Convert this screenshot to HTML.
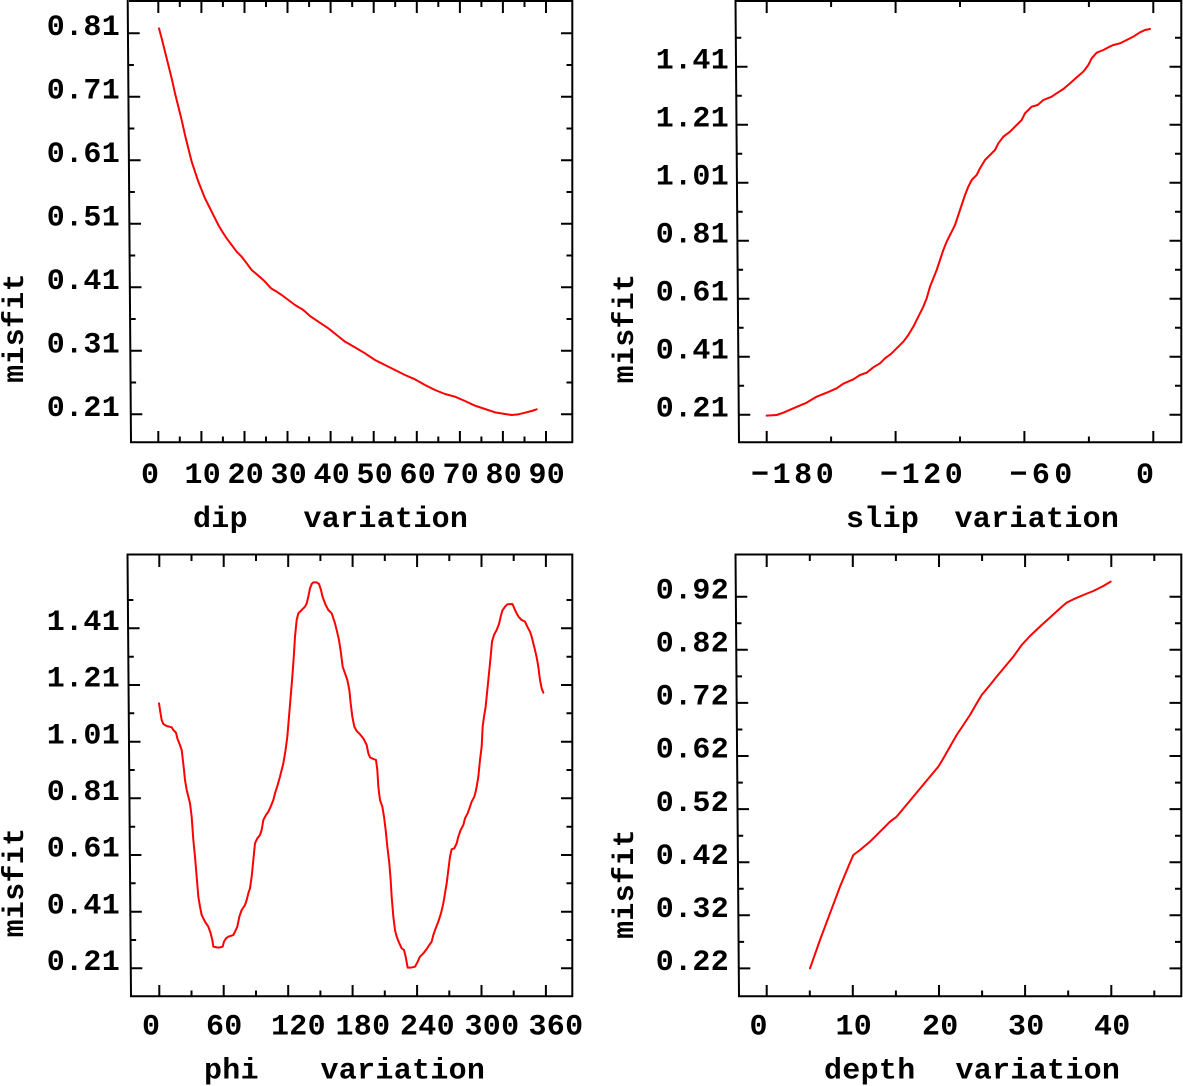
<!DOCTYPE html>
<html>
<head>
<meta charset="utf-8">
<style>
html,body{margin:0;padding:0;background:#fff;}
svg{display:block;}
text{font-family:"Liberation Mono","DejaVu Sans Mono",monospace;font-weight:bold;font-size:30px;letter-spacing:0.3px;fill:#000;}
</style>
</head>
<body>
<svg width="1183" height="1086" viewBox="0 0 1183 1086" xmlns="http://www.w3.org/2000/svg">
<rect x="0" y="0" width="1183" height="1086" fill="#fff"/>

<g stroke="#000" stroke-width="2" fill="none">
  <path d="M127.7,0 L131,443 M129,1 H573 M572.3,0 V443 M130,442.3 H573"/>
  <path d="M735.5,0 L739,443 M736,1 H1182 M1181.3,0 V443 M738,442.3 H1182"/>
  <path d="M127.5,553.5 L131,997 M128,554.5 H573 M572.3,553.5 V997 M130,996.2 H573"/>
  <path d="M735.5,553.5 L739,997 M736,554.5 H1182 M1181.3,553.5 V997 M738,996.2 H1182"/>
</g>

<g stroke="#000" stroke-width="2" fill="none">
  <path d="M127.7 33.3H139.7M128.2 96.8H140.2M128.6 160.3H140.6M129 223.8H141M129.5 287.3H141.5M129.9 350.8H141.9M130.3 414.3H142.3
           M127.9 65H133.9M128.4 128.5H134.4M128.8 192H134.8M129.2 255.5H135.2M129.7 319H135.7M130.1 382.5H136.1"/>
  <path d="M561 33.3H572M561 96.8H572M561 160.3H572M561 223.8H572M561 287.3H572M561 350.8H572M561 414.3H572
           M566.5 65H572M566.5 128.5H572M566.5 192H572M566.5 255.5H572M566.5 319H572M566.5 382.5H572"/>
  <path d="M158.3 431V442M201.4 431V442M244.5 431V442M287.5 431V442M330.6 431V442M373.7 431V442M416.8 431V442M459.9 431V442M502.9 431V442M546 431V442
           M179.8 436.5V442M222.9 436.5V442M266 436.5V442M309.1 436.5V442M352.2 436.5V442M395.2 436.5V442M438.3 436.5V442M481.4 436.5V442M524.5 436.5V442"/>
  <path d="M158.3 0V13M201.4 0V13M244.5 0V13M287.5 0V13M330.6 0V13M373.7 0V13M416.8 0V13M459.9 0V13M502.9 0V13M546 0V13
           M179.8 0V7M222.9 0V7M266 0V7M309.1 0V7M352.2 0V7M395.2 0V7M438.3 0V7M481.4 0V7M524.5 0V7"/>

  <path d="M735.5 66.7H747.5M736 124.7H748M736.4 182.7H748.4M736.9 240.7H748.9M737.4 298.7H749.4M737.8 356.7H749.8M738.3 414.7H750.3
           M735.3 37.7H741.3M735.8 95.7H741.8M736.2 153.7H742.2M736.7 211.7H742.7M737.1 269.7H743.1M737.6 327.7H743.6M738.1 385.7H744.1"/>
  <path d="M1169.5 66.7H1181M1169.5 124.7H1181M1169.5 182.7H1181M1169.5 240.7H1181M1169.5 298.7H1181M1169.5 356.7H1181M1169.5 414.7H1181
           M1175 37.7H1181M1175 95.7H1181M1175 153.7H1181M1175 211.7H1181M1175 269.7H1181M1175 327.7H1181M1175 385.7H1181"/>
  <path d="M766.7 431V442M895.6 431V442M1024.4 431V442M1153.3 431V442
           M831.1 436.5V442M960 436.5V442M1088.9 436.5V442"/>
  <path d="M766.7 0V13M895.6 0V13M1024.4 0V13M1153.3 0V13
           M831.1 0V7M960 0V7M1088.9 0V7"/>

  <path d="M127.6 628.3H139.6M128 685H140M128.5 741.7H140.5M128.9 798.3H140.9M129.4 855H141.4M129.8 911.7H141.8M130.3 968.3H142.3
           M127.4 600H133.4M127.8 656.7H133.8M128.3 713.3H134.3M128.7 770H134.7M129.2 826.7H135.2M129.6 883.3H135.6M130.1 940H136.1"/>
  <path d="M561 628.3H572M561 685H572M561 741.7H572M561 798.3H572M561 855H572M561 911.7H572M561 968.3H572
           M566.5 600H572M566.5 656.7H572M566.5 713.3H572M566.5 770H572M566.5 826.7H572M566.5 883.3H572M566.5 940H572"/>
  <path d="M159.3 985V996M223.7 985V996M288.2 985V996M352.6 985V996M417.1 985V996M481.5 985V996M545.9 985V996
           M191.5 990.5V996M256 990.5V996M320.4 990.5V996M384.8 990.5V996M449.3 990.5V996M513.7 990.5V996"/>
  <path d="M159.3 554V567M223.7 554V567M288.2 554V567M352.6 554V567M417.1 554V567M481.5 554V567M545.9 554V567
           M191.5 554V561M256 554V561M320.4 554V561M384.8 554V561M449.3 554V561M513.7 554V561"/>

  <path d="M735.3 596.7H747.3M735.8 649.8H747.8M736.2 702.9H748.2M736.6 756H748.6M737 809.1H749M737.4 862.2H749.4M737.9 915.3H749.9M738.3 968.4H750.3
           M735.5 623.3H741.5M736 676.4H742M736.4 729.5H742.4M736.8 782.6H742.8M737.2 835.7H743.2M737.7 888.8H743.7M738.1 941.9H744.1"/>
  <path d="M1169.5 596.7H1181M1169.5 649.8H1181M1169.5 702.9H1181M1169.5 756H1181M1169.5 809.1H1181M1169.5 862.2H1181M1169.5 915.3H1181M1169.5 968.4H1181
           M1175 623.3H1181M1175 676.4H1181M1175 729.5H1181M1175 782.6H1181M1175 835.7H1181M1175 888.8H1181M1175 941.9H1181"/>
  <path d="M766.7 985V996M852.8 985V996M939 985V996M1025.1 985V996M1111.3 985V996
           M809.8 990.5V996M895.9 990.5V996M982.1 990.5V996M1068.2 990.5V996M1154.3 990.5V996"/>
  <path d="M766.7 554V567M852.8 554V567M939 554V567M1025.1 554V567M1111.3 554V567
           M809.8 554V561M895.9 554V561M982.1 554V561M1068.2 554V561M1154.3 554V561"/>
</g>

<g fill="none" stroke="#ff0000" stroke-width="2" stroke-linejoin="round" stroke-linecap="round">
  <polyline transform="translate(145,15) scale(0.33333)" vector-effect="non-scaling-stroke"
    points="42,40 50,70 60,110 70,150 80,190 90,235 100,275 110,315 120,360 130,400 140,440 150,470 160,500 170,525 180,550 190,570 200,590 210,610 220,630 232,650 245,670 260,690 275,710 290,725 305,745 320,765 340,782 360,800 378,820 395,830 410,840 430,855 450,870 475,885 495,903 520,920 550,940 575,960 600,980 630,997 660,1015 690,1035 720,1050 750,1065 780,1080 810,1093 840,1110 870,1125 900,1137 930,1145 960,1158 990,1172 1020,1182 1050,1192 1080,1197 1100,1200 1120,1198 1140,1193 1160,1188 1175,1183"/>
  <polyline transform="translate(740,15) scale(0.33333)" vector-effect="non-scaling-stroke"
    points="80,1202 110,1200 130,1193 160,1180 200,1163 230,1145 260,1133 290,1120 310,1106 340,1093 360,1080 380,1073 400,1057 420,1045 435,1030 455,1015 470,1000 490,980 505,960 520,935 535,905 550,875 560,850 570,815 580,790 590,765 600,735 610,705 620,680 635,650 645,630 655,600 665,570 675,540 685,515 695,495 710,480 720,460 735,435 750,420 765,405 775,385 790,365 810,350 830,330 845,315 855,295 875,275 893,270 910,255 935,245 950,235 970,222 990,205 1010,187 1030,170 1045,150 1055,130 1070,113 1090,105 1105,97 1120,90 1140,85 1160,75 1180,65 1200,52 1215,45 1230,42"/>
  <polyline transform="translate(140,570) scale(0.33333)" vector-effect="non-scaling-stroke"
    points="57,400 60,420 65,450 70,462 80,468 95,472 100,480 108,488 112,505 118,520 125,540 128,565 132,600 135,630 140,660 145,680 150,700 155,740 160,810 165,860 170,920 175,980 180,1010 185,1035 195,1055 205,1070 212,1090 217,1110 220,1130 235,1133 248,1130 252,1115 258,1105 265,1100 280,1095 285,1085 292,1070 298,1040 305,1020 315,1005 320,990 325,970 330,955 335,920 340,870 345,820 352,805 360,795 365,780 370,750 378,735 385,725 392,710 400,690 405,670 413,645 420,620 430,580 436,545 442,500 447,440 452,380 457,320 462,250 465,200 470,150 475,130 485,120 495,110 500,100 505,80 510,55 515,42 520,37 530,37 537,42 543,60 547,78 552,92 557,105 565,120 575,130 580,145 585,160 590,180 597,210 603,250 608,290 615,310 622,330 628,360 632,400 637,440 643,470 650,483 660,493 670,505 680,525 685,550 690,562 700,567 708,570 712,600 715,650 720,690 727,710 732,740 737,780 742,830 748,880 752,930 755,980 760,1040 765,1080 770,1100 778,1120 785,1135 792,1140 797,1160 803,1193 812,1193 825,1190 833,1175 840,1160 850,1150 860,1137 868,1125 875,1115 880,1095 887,1075 895,1055 903,1030 910,1000 915,970 920,940 925,900 930,860 935,838 943,835 950,820 955,800 962,780 970,765 975,745 983,730 990,710 995,695 1003,680 1007,665 1010,650 1015,620 1020,570 1025,530 1028,470 1032,440 1037,410 1042,360 1047,310 1052,260 1056,215 1062,195 1070,180 1077,162 1082,140 1087,122 1095,110 1102,103 1117,102 1120,108 1125,120 1130,130 1137,142 1145,150 1155,155 1162,170 1170,185 1175,200 1180,220 1185,240 1190,262 1195,290 1200,330 1205,355 1210,368"/>
  <polyline transform="translate(790,570) scale(0.33333)" vector-effect="non-scaling-stroke"
    points="60,1195 90,1110 120,1030 150,950 175,890 190,855 210,840 240,815 270,785 300,755 320,740 345,710 370,680 395,650 420,620 445,590 460,565 480,530 500,495 520,465 540,435 560,400 575,375 600,345 620,320 645,290 670,260 695,225 720,198 755,165 785,138 810,115 830,98 850,88 880,75 910,63 940,48 962,35"/>
</g>

<g text-anchor="end">
  <text x="120" y="35">0.81</text>
  <text x="120" y="98.5">0.71</text>
  <text x="120" y="162">0.61</text>
  <text x="120" y="225.5">0.51</text>
  <text x="120" y="289">0.41</text>
  <text x="120" y="352.5">0.31</text>
  <text x="120" y="416">0.21</text>
  <text x="729" y="68.4">1.41</text>
  <text x="729" y="126.4">1.21</text>
  <text x="729" y="184.4">1.01</text>
  <text x="729" y="242.4">0.81</text>
  <text x="729" y="300.4">0.61</text>
  <text x="729" y="358.4">0.41</text>
  <text x="729" y="416.4">0.21</text>
  <text x="120" y="630">1.41</text>
  <text x="120" y="686.7">1.21</text>
  <text x="120" y="743.4">1.01</text>
  <text x="120" y="800">0.81</text>
  <text x="120" y="856.7">0.61</text>
  <text x="120" y="913.4">0.41</text>
  <text x="120" y="970">0.21</text>
  <text x="729" y="598.4">0.92</text>
  <text x="729" y="651.5">0.82</text>
  <text x="729" y="704.6">0.72</text>
  <text x="729" y="757.7">0.62</text>
  <text x="729" y="810.8">0.52</text>
  <text x="729" y="863.9">0.42</text>
  <text x="729" y="917">0.32</text>
  <text x="729" y="970.1">0.22</text>
</g>

<g>
  <text x="141" y="483">0</text>
  <text x="184.5" y="483">10</text>
  <text x="227.5" y="483">20</text>
  <text x="270.5" y="483">30</text>
  <text x="313.5" y="483">40</text>
  <text x="356.5" y="483">50</text>
  <text x="399.5" y="483">60</text>
  <text x="442.5" y="483">70</text>
  <text x="485.5" y="483">80</text>
  <text x="528.5" y="483">90</text>
  <text x="751" y="483" textLength="83" lengthAdjust="spacing">−180</text>
  <text x="880" y="483" textLength="83" lengthAdjust="spacing">−120</text>
  <text x="1009.5" y="483" textLength="63" lengthAdjust="spacing">−60</text>
  <text x="1136" y="483">0</text>
  <text x="142" y="1034.5">0</text>
  <text x="206" y="1034.5">60</text>
  <text x="271" y="1034.5">120</text>
  <text x="335.5" y="1034.5">180</text>
  <text x="400" y="1034.5">240</text>
  <text x="464.5" y="1034.5">300</text>
  <text x="528.5" y="1034.5">360</text>
  <text x="749.5" y="1034.5">0</text>
  <text x="835.5" y="1034.5">10</text>
  <text x="922" y="1034.5">20</text>
  <text x="1008" y="1034.5">30</text>
  <text x="1094" y="1034.5">40</text>
</g>

<g>
  <text y="527"><tspan x="193">dip</tspan><tspan x="303.5">variation</tspan></text>
  <text y="527"><tspan x="846">slip</tspan><tspan x="954.5">variation</tspan></text>
  <text y="1078.5"><tspan x="204">phi</tspan><tspan x="320.5">variation</tspan></text>
  <text y="1078.5"><tspan x="824">depth</tspan><tspan x="955.5">variation</tspan></text>
  <text text-anchor="middle" transform="translate(23,328) rotate(-90)">misfit</text>
  <text text-anchor="middle" transform="translate(633,328.5) rotate(-90)">misfit</text>
  <text text-anchor="middle" transform="translate(23,882.5) rotate(-90)">misfit</text>
  <text text-anchor="middle" transform="translate(633,884) rotate(-90)">misfit</text>
</g>
</svg>
</body>
</html>
